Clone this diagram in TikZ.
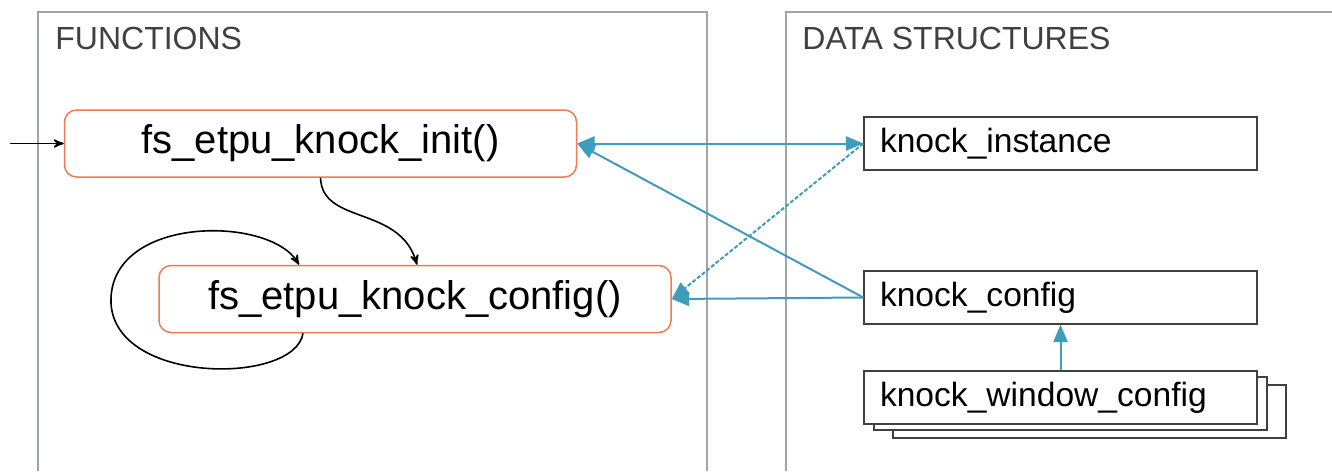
\documentclass[tikz,border=0pt]{standalone}
\usepackage{fontspec}
\setmainfont{Liberation Sans}
\usetikzlibrary{arrows}

\definecolor{fnorange}{RGB}{240,122,84}
\definecolor{linkblue}{RGB}{64,156,188}
\definecolor{panelgray}{RGB}{160,164,172}
\definecolor{titlegray}{RGB}{64,64,64}

\begin{document}
\begin{tikzpicture}[x=0.5pt,y=-0.5pt,
	func/.style={draw=fnorange, line width=0.75pt, rounded corners=6pt, fill=white,
		minimum width=256pt, minimum height=33.5pt, font=\fontsize{20}{24}\selectfont},
	data/.style={draw=black!75, line width=0.75pt, fill=white, text width=180.5pt,
		inner xsep=8pt, minimum height=26.5pt, align=left, font=\fontsize{16.8}{20}\selectfont},
	title/.style={anchor=west, inner sep=0pt, text=titlegray, font=\fontsize{16}{19}\selectfont},
	link/.style={draw=linkblue, line width=1pt, -triangle 45},
	call/.style={draw=black, line width=0.8pt, -stealth'}]
	\useasboundingbox (0,0) rectangle (1332,471);

	% the two panels
	\draw[panelgray, line width=1pt] (38,471) -- (38,12) -- (707,12) -- (707,471);
	\draw[panelgray, line width=1pt] (786,471) -- (786,12) -- (1332,12);
	\node[title] (fntitle) at (55,38) {FUNCTIONS};
	\node[title] (dstitle) at (802,38) {DATA STRUCTURES};

	% functions
	\node[func] (init) at (320.5,143.5) {fs\_etpu\_knock\_init()};
	\node[func] (config) at (415,299) {fs\_etpu\_knock\_config()};

	% data structures
	\node[data] (inst) at (1060.5,143.5) {knock\_instance};
	\node[data] (kcfg) at (1060.5,297.5) {knock\_config};
	\node[data] (win3) at (1089.5,411.5) {\phantom{k}};
	\node[data] (win2) at (1070.5,403.5) {\phantom{k}};
	\node[data] (win) at (1060.5,397.5) {knock\_window\_config};

	% calls
	\coordinate (entry) at (10,143.5);
	\draw[call] (entry) -- (init.west);
	\draw[call] (init.south) .. controls (322,225) and (400,205) .. ([xshift=1pt]config.north);
	\draw[call] ([xshift=-56pt]config.south) .. controls (295,385) and (115,385) .. (111,303)
		.. controls (108,215) and (270,215) .. ([xshift=-58pt]config.north);

	% data links
	\draw[link, triangle 45-triangle 45] (init.east) -- (inst.west);
	\draw[link] (kcfg.west) -- (init.east);
	\draw[link] (kcfg.west) -- (config.east);
	\draw[link, dash pattern=on 2pt off 1pt] (inst.west) -- (config.east);
	\draw[link] (win) -- (kcfg);
\end{tikzpicture}
\end{document}
